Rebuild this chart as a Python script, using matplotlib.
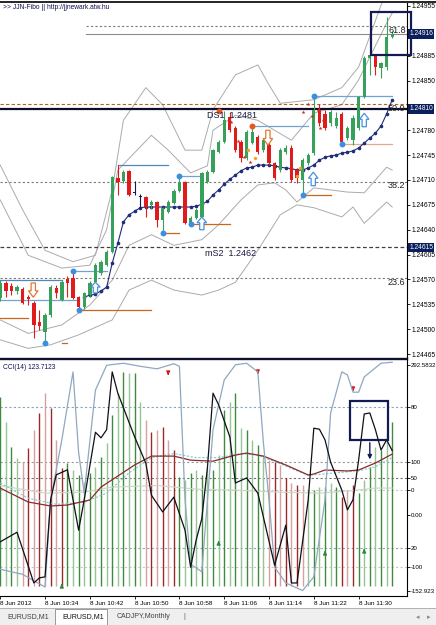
import matplotlib
matplotlib.use("Agg")
import matplotlib.pyplot as plt
import matplotlib.transforms as mtransforms
from matplotlib.patches import Rectangle, Polygon
from matplotlib.lines import Line2D
import numpy as np

plt.rcParams['font.family'] = ['Liberation Sans', 'DejaVu Sans']

# EURUSD M1, 8 Jun 2012 10:26 .. 11:36 (one bar per minute)
opens = [1.24544, 1.24565, 1.24561, 1.24554, 1.24557, 1.24545, 1.24537, 1.24510, 1.24496, 1.24520,
         1.24558, 1.24541, 1.24571, 1.24572, 1.24545, 1.24531, 1.24548, 1.24566, 1.24579, 1.24590,
         1.24609, 1.24713, 1.24709, 1.24723, 1.24692, 1.24686, 1.24686, 1.24675, 1.24679, 1.24654,
         1.24665, 1.24678, 1.24695, 1.24707, 1.24649, 1.24657, 1.24658, 1.24707, 1.24721, 1.24749,
         1.24764, 1.24799, 1.24783, 1.24764, 1.24741, 1.24762, 1.24771, 1.24752, 1.24759, 1.24734,
         1.24724, 1.24749, 1.24755, 1.24724, 1.24710, 1.24734, 1.24748, 1.24809, 1.24803, 1.24790,
         1.24786, 1.24803, 1.24769, 1.24766, 1.24783, 1.24827, 1.24882, 1.24886, 1.24868, 1.24869,
         1.24911]
highs = [1.24569, 1.24568, 1.24565, 1.24562, 1.24559, 1.24548, 1.24540, 1.24527, 1.24523, 1.24562,
         1.24562, 1.24569, 1.24575, 1.24582, 1.24547, 1.24552, 1.24568, 1.24593, 1.24597, 1.24611,
         1.24716, 1.24731, 1.24724, 1.24724, 1.24709, 1.24690, 1.24687, 1.24682, 1.24680, 1.24672,
         1.24682, 1.24697, 1.24716, 1.24709, 1.24659, 1.24671, 1.24721, 1.24724, 1.24754, 1.24766,
         1.24807, 1.24806, 1.24786, 1.24766, 1.24780, 1.24786, 1.24773, 1.24769, 1.24762, 1.24735,
         1.24755, 1.24759, 1.24759, 1.24727, 1.24741, 1.24748, 1.24828, 1.24817, 1.24809, 1.24809,
         1.24806, 1.24806, 1.24786, 1.24802, 1.24828, 1.24885, 1.24887, 1.24887, 1.24876, 1.24940,
         1.24920]
lows = [1.24540, 1.24545, 1.24548, 1.24549, 1.24535, 1.24534, 1.24488, 1.24499, 1.24481, 1.24517,
        1.24544, 1.24540, 1.24545, 1.24542, 1.24527, 1.24528, 1.24545, 1.24564, 1.24576, 1.24589,
        1.24607, 1.24689, 1.24706, 1.24687, 1.24689, 1.24672, 1.24658, 1.24669, 1.24644, 1.24635,
        1.24664, 1.24676, 1.24693, 1.24648, 1.24648, 1.24655, 1.24657, 1.24706, 1.24720, 1.24748,
        1.24762, 1.24778, 1.24749, 1.24735, 1.24738, 1.24761, 1.24747, 1.24749, 1.24731, 1.24710,
        1.24721, 1.24747, 1.24707, 1.24706, 1.24689, 1.24731, 1.24745, 1.24786, 1.24780, 1.24786,
        1.24783, 1.24761, 1.24766, 1.24759, 1.24780, 1.24825, 1.24858, 1.24858, 1.24854, 1.24865,
        1.24910]
closes = [1.24565, 1.24554, 1.24554, 1.24559, 1.24537, 1.24542, 1.24506, 1.24504, 1.24520, 1.24559,
          1.24551, 1.24566, 1.24565, 1.24544, 1.24531, 1.24551, 1.24565, 1.24590, 1.24595, 1.24609,
          1.24714, 1.24707, 1.24721, 1.24689, 1.24692, 1.24686, 1.24672, 1.24679, 1.24654, 1.24671,
          1.24679, 1.24695, 1.24707, 1.24649, 1.24657, 1.24668, 1.24720, 1.24721, 1.24752, 1.24764,
          1.24794, 1.24780, 1.24752, 1.24741, 1.24778, 1.24778, 1.24749, 1.24766, 1.24734, 1.24713,
          1.24752, 1.24755, 1.24710, 1.24713, 1.24738, 1.24745, 1.24809, 1.24790, 1.24783, 1.24806,
          1.24797, 1.24764, 1.24783, 1.24797, 1.24827, 1.24882, 1.24886, 1.24869, 1.24875, 1.24911,
          1.24916]

# envelope bands (bar, price) read at turning points
uo_bars = [0, 4, 8, 13, 17, 20, 22, 26, 29, 33, 36, 38, 42, 46, 48, 50, 56, 61, 64, 68, 70]
uo_vals = [1.24731, 1.24668, 1.24611, 1.24595, 1.24604, 1.24696, 1.24794, 1.24840, 1.24816, 1.24752,
           1.24752, 1.24809, 1.24858, 1.24872, 1.24844, 1.24818, 1.24823, 1.24840, 1.24869, 1.24956, 1.24990]
ui_bars = [0, 5, 11, 16, 19, 21, 27, 30, 34, 37, 38, 42, 46, 52, 56, 61, 64, 69, 70]
ui_vals = [1.24682, 1.24604, 1.24586, 1.24590, 1.24640, 1.24724, 1.24773, 1.24752, 1.24720, 1.24730,
           1.24780, 1.24801, 1.24794, 1.24766, 1.24804, 1.24816, 1.24851, 1.24931, 1.24945]
li_bars = [0, 5, 11, 16, 20, 23, 27, 31, 36, 39, 43, 46, 49, 51, 53, 56, 62, 65, 67, 69, 70]
li_vals = [1.24513, 1.24494, 1.24506, 1.24534, 1.24569, 1.24618, 1.24633, 1.24618, 1.24626, 1.24647,
           1.24682, 1.24703, 1.24706, 1.24696, 1.24679, 1.24699, 1.24693, 1.24692, 1.24710, 1.24728, 1.24724]
lo_bars = [0, 5, 9, 14, 20, 23, 27, 31, 36, 39, 42, 46, 50, 53, 56, 61, 63, 65, 69, 70]
lo_vals = [1.24485, 1.24473, 1.24478, 1.24492, 1.24513, 1.24555, 1.24569, 1.24555, 1.24548, 1.24555,
           1.24566, 1.24611, 1.24661, 1.24675, 1.24671, 1.24658, 1.24672, 1.24649, 1.24679, 1.24672]

# trailing stop line (bars 15..70)
trail_start = 15
trail_vals = [1.24545, 1.24548, 1.24549, 1.24554, 1.24559, 1.24593, 1.24621, 1.24651, 1.24661, 1.24666,
              1.24671, 1.24672, 1.24672, 1.24672, 1.24672, 1.24672, 1.24672, 1.24672, 1.24672, 1.24672,
              1.24673, 1.24676, 1.24680, 1.24689, 1.24696, 1.24704, 1.24711, 1.24717, 1.24723, 1.24727,
              1.24728, 1.24731, 1.24731, 1.24731, 1.24730, 1.24728, 1.24727, 1.24726, 1.24724, 1.24724,
              1.24727, 1.24731, 1.24738, 1.24742, 1.24744, 1.24745, 1.24748, 1.24749, 1.24751, 1.24755,
              1.24762, 1.24769, 1.24776, 1.24786, 1.24803, 1.24823]

fib_levels = [1.24572, 1.24707, 1.24817, 1.24927]
fib_names = ['23.6', '38.2', '50.0', '61.8']
bid = 1.24916
ds1 = 1.24810
ms2 = 1.24615

swing_dots = [(8, 1.24481), (13, 1.24582), (14, 1.24527), (29, 1.24635), (32, 1.24716),
              (34, 1.24648), (54, 1.24689), (56, 1.24828), (61, 1.24761)]
peak_dots = [(39, 1.24807), (45, 1.24786)]
# (from bar, to bar, price, kind)
swing_lines = [(0, 11, 1.24569, 'b'), (0, 14, 1.24541, 'lb'), (0, 5, 1.24516, 'o'),
               (13, 19, 1.24582, 'lb'), (14, 27, 1.24527, 'o'), (11, 12, 1.24481, 'o'),
               (21, 30, 1.24731, 'b'), (32, 36, 1.24716, 'lb'), (29, 32, 1.24635, 'o'),
               (34, 41, 1.24648, 'o'), (45, 55, 1.24786, 'lb'), (54, 59, 1.24689, 'o'),
               (56, 70, 1.24828, 'lb'), (61, 70, 1.24761, 't')]
# (bar, top, bottom, up)
signal_arrows = [(5.9, 1.24565, 1.24545, False), (17, 1.24566, 1.24551, True),
                 (36, 1.24658, 1.24640, True), (47.8, 1.24780, 1.24759, False),
                 (55.9, 1.24721, 1.24702, True), (65, 1.24804, 1.24785, True)]
star_bars = [41.2, 41.9, 42.5, 43.0, 43.5, 44.6, 54.1, 55.0, 55.7, 56.8, 57.6, 57.1]
star_vals = [1.24792, 1.24779, 1.24765, 1.24752, 1.24742, 1.24735, 1.24806, 1.24817, 1.24800,
             1.24809, 1.24794, 1.24783]
dot_bars = [44.3, 45.5, 53.0, 53.5]
dot_vals = [1.24752, 1.24741, 1.24716, 1.24727]

price_ticks = [1.24465, 1.24500, 1.24535, 1.24570, 1.24605, 1.24640, 1.24675, 1.24710, 1.24745,
               1.24780, 1.24815, 1.24850, 1.24885, 1.24920, 1.24955]
# labels hidden behind the price boxes on the right
hidden_ticks = [1.24815, 1.24920]

# lower panel
hist_vals = [229.5, 180.2, 130.9, 109.3, 101.4, 129.0, 164.5, 198.0, 237.4, 207.8,
             144.8, 89.6, 99.4, 85.6, 75.8, 62.0, 79.7, 91.5, 111.2, 138.8,
             194.0, 237.4, 278.8, 276.8, 276.8, 219.7, 184.2, 160.5, 164.5, 170.4,
             144.8, 125.0, 71.8, 65.9, 79.7, 85.6, 75.8, 89.6, 85.6, 115.2,
             203.9, 219.7, 237.4, 168.4, 164.5, 144.8, 134.9, 115.2, 105.3, 101.4,
             95.5, 69.9, 60.0, 56.1, 56.1, 46.2, 46.2, 52.1, 52.1, 60.0,
             52.1, 32.4, 46.2, 56.1, 40.3, 65.9, 91.5, 130.9, 125.0, 158.6, 180.2]
hist_up = [1, 1, 1, 1, 0, 0, 0, 0, 0, 0, 0, 0, 1, 1, 1, 1, 1, 1, 1, 1,
           1, 1, 1, 1, 1, 1, 0, 0, 0, 0, 0, 0, 1, 1, 1, 1, 1, 1, 1, 1,
           1, 1, 1, 1, 1, 1, 1, 1, 0, 0, 0, 0, 0, 0, 0, 1, 1, 1, 1, 1,
           1, 0, 0, 0, 1, 1, 1, 1, 1, 1, 1]
hist_base = -143.0

cci_bars = [0, 3, 6, 7, 8, 9, 10, 12, 13, 14, 15, 17, 18, 19, 20, 21, 24, 26, 27, 29, 31, 33, 34,
            35, 36, 37, 38, 39, 41, 42, 44, 46, 49, 51, 52, 53, 55, 56, 57, 58, 59, 61, 62, 63,
            64, 65, 66, 67, 68, 69, 70]
cci_vals = [-56, -37, -137, -127, -125, 27, 76, 86, 27, -33, 27, 160, 149, 165, 279, 237, 151, 99,
            36, 3, 32, -33, -106, -52, -10, 90, 237, 214, 151, 60, 70, 40, -102, -23, -137, -137,
            27, 168, 166, 145, 101, 46, 7, 27, 105, 196, 198, 165, 125, 145, 123.7]
osc_bars = [0, 4, 8, 9, 11, 13, 14, 15, 17, 19, 22, 25, 28, 31, 32, 33, 34, 36, 38, 40, 42, 44,
            46, 47, 48, 49, 51, 54, 56, 58, 59, 61, 62, 63, 64, 65, 68, 70]
osc_vals = [-110, -120, -145, 27, 145, 279, 120, 40, 243, 292, 296, 290, 285, 295, 290, 27, -100,
            -115, 165, 263, 293, 296, 279, 139, 27, -106, -137, -152, -125, 27, 198, 279, 273,
            239, 239, 269, 296, 298]
ma_bars = [0, 5, 9, 12, 16, 18, 24, 27, 31, 34, 38, 42, 44, 47, 51, 55, 56, 58, 62, 64, 67, 70]
ma_vals = [50, 22.5, 14.7, 16.6, 26.5, 52, 95.5, 113, 113, 105, 103, 115, 119, 113, 95.5, 75.8,
           77.7, 85.6, 83.7, 85.6, 99.4, 117]
sig_bars = [0, 5, 10, 15, 19, 23, 27, 31, 35, 39, 43, 46, 50, 55, 60, 64, 67, 70]
sig_vals = [60, 30, 18, 22, 40, 80, 110, 118, 110, 110, 118, 115, 98, 75, 80, 84, 92, 110]
slow_bars = [0, 8, 15, 20, 28, 35, 42, 50, 57, 63, 67, 70]
slow_vals = [55, 40, 42, 52, 55, 48, 46, 42, 40, 45, 50, 50]

cci_levels = [209.8, 100.4, 70.0, 46.2, -68.0, -105.6]
cci_level_colors = ['#8aa4b8', '#9a9a9a', '#707070', '#c8c8c8', '#8aa4b8', '#c8c8c8']
cci_ticks = [292.58, 209.8, 100.4, 70.0, 46.2, -3.0, -68.0, -105.6, -152.92]
cci_tick_labels = ['292.5832', '80', '100', '50', '0', '0.00', '20', '-100', '-152.923']
down_marks = [(30, 276.8), (46, 278.8), (63, 245.3)]
up_marks = [(11, -143.0), (39, -58.3), (58, -78.0), (65, -74.0)]

time_ticks = [0, 8, 16, 24, 32, 40, 48, 56, 64]
time_labels = ['8 Jun 2012', '8 Jun 10:34', '8 Jun 10:42', '8 Jun 10:50', '8 Jun 10:58',
               '8 Jun 11:06', '8 Jun 11:14', '8 Jun 11:22', '8 Jun 11:30']

GREEN = '#37a05a'
RED = '#e01b1b'
NAVY = '#141a52'
W, H = 436, 625


def fx(px):
    return px / W


def fy(py):
    return 1 - py / H


def hollow_arrow(ax, x, top, bottom, up, color):
    w = 0.85
    h = top - bottom
    if up:
        head = top - 0.45 * h
        pts = [(x, top), (x + w, head), (x + w * 0.45, head), (x + w * 0.45, bottom),
               (x - w * 0.45, bottom), (x - w * 0.45, head), (x - w, head)]
    else:
        head = bottom + 0.45 * h
        pts = [(x, bottom), (x + w, head), (x + w * 0.45, head), (x + w * 0.45, top),
               (x - w * 0.45, top), (x - w * 0.45, head), (x - w, head)]
    ax.add_patch(Polygon(pts, closed=True, fc='white', ec=color, lw=0.9, zorder=6))


fig = plt.figure(figsize=(4.36, 6.25), dpi=100)
ax = fig.add_axes([0, fy(357), fx(407), fy(3) - fy(357)])
axc = fig.add_axes([0, fy(596), fx(407), fy(360) - fy(596)])

xlim = (-0.04, 72.64)

# ---------------- price panel ----------------
ax.set_xlim(*xlim)
ax.set_ylim(1.244608, 1.249592)
for s in ['top', 'left', 'bottom']:
    ax.spines[s].set_visible(False)
ax.spines['right'].set_linewidth(0.8)
ax.yaxis.tick_right()
ax.set_yticks(price_ticks)
ax.set_yticklabels(['' if p in hidden_ticks else '%.5f' % p for p in price_ticks])
ax.tick_params(axis='y', length=2, pad=1.2, labelsize=4.8, width=0.6)
ax.set_xticks([])

for bx, bv in [(uo_bars, uo_vals), (ui_bars, ui_vals), (li_bars, li_vals), (lo_bars, lo_vals)]:
    ax.plot(bx, bv, color='#ababab', lw=0.7, zorder=1)

# levels
ax.axhline(fib_levels[0], color='#7a7a7a', lw=0.8, ls=(0, (2, 2)), zorder=2)
ax.axhline(fib_levels[1], color='#7a7a7a', lw=0.8, ls=(0, (2, 2)), zorder=2)
ax.axhline(fib_levels[2], color='#b5651d', lw=0.8, ls=(0, (3, 2)), zorder=2)
ax.plot([15.3, xlim[1]], [fib_levels[3]] * 2, color='#7a7a7a', lw=0.8, ls=(0, (2, 2)), zorder=2)
ax.plot([15.3, xlim[1]], [bid] * 2, color='#8c8c8c', lw=0.8, zorder=2)
ax.axhline(ds1, color='#0d0d2b', lw=1.6, zorder=2)
ax.axhline(ms2, color='#404040', lw=0.9, ls=(0, (3, 2)), zorder=2)

label_y = {'61.8': 1.24921, '50.0': 1.24811, '38.2': 1.24702, '23.6': 1.24565}
for name in fib_names:
    ax.text(69.25, label_y[name], name, fontsize=6.5, color='#202020', va='center', ha='left',
            zorder=7, clip_on=True)
ax.text(36.9, 1.24801, 'DS1  1.2481', fontsize=6.5, color='#1a1a40', va='center', zorder=7)
ax.text(36.6, 1.24607, 'mS2  1.2462', fontsize=6.5, color='#1a1a40', va='center', zorder=7)

# swing lines and dots
line_colors = {'b': '#4f87b8', 'lb': '#6fa3d0', 'o': '#c8651e', 't': '#e2a98a'}
for b0, b1, p, k in swing_lines:
    ax.plot([b0, b1], [p, p], color=line_colors[k], lw=0.9, zorder=3)

# trailing line
tx = np.arange(trail_start, trail_start + len(trail_vals))
ax.plot(tx, trail_vals, color='#1f2d7a', lw=0.8, marker='o', ms=1.6, zorder=3)

# candles
x = np.arange(len(opens))
o = np.array(opens)
c = np.array(closes)
cols = [GREEN if cc > oo else (RED if cc < oo else NAVY) for oo, cc in zip(o, c)]
ax.vlines(x, lows, highs, colors=cols, lw=0.8, zorder=4)
ax.bar(x, np.maximum(np.abs(c - o), 0.000012), bottom=np.minimum(o, c), width=0.6,
       color=cols, linewidth=0, zorder=4)

ax.scatter([d[0] for d in swing_dots], [d[1] for d in swing_dots], s=18, color='#3b8fe0',
           zorder=5, linewidths=0)
ax.scatter([d[0] for d in peak_dots], [d[1] for d in peak_dots], s=18, color='#e8571e',
           zorder=5, linewidths=0)
ax.scatter(star_bars, star_vals, s=9, marker='*', color='#cc2a1a', zorder=5, linewidths=0)
ax.scatter(dot_bars, dot_vals, s=6, marker='o', color='#f0a030', zorder=5, linewidths=0)

for bx, top, bot, up in signal_arrows:
    hollow_arrow(ax, bx, top, bot, up, '#4a90d9' if up else '#e07830')

ax.add_patch(Rectangle((66.2, 1.24886), 7.2, 0.000606, fill=False, ec=NAVY, lw=1.6,
                       zorder=8, clip_on=False))

tr = mtransforms.blended_transform_factory(ax.transAxes, ax.transData)
for p in [bid, ds1, ms2]:
    ax.text(1.005, p, '%.5f' % p, transform=tr, fontsize=4.8, color='white', va='center',
            ha='left', zorder=9, clip_on=False,
            bbox=dict(boxstyle='square,pad=0.2', fc='#0b1f5c', ec='none'))

ax.text(0.007, 0.997, '>> JJN-Fibo || http://jjnewark.atw.hu', transform=ax.transAxes,
        fontsize=4.8, color='#101050', va='top', ha='left', zorder=9)

# ---------------- CCI panel ----------------
axc.set_xlim(*xlim)
axc.set_ylim(-162.7, 302.4)
for s in ['top', 'left']:
    axc.spines[s].set_visible(False)
axc.spines['right'].set_linewidth(0.8)
axc.spines['bottom'].set_linewidth(0.8)
axc.yaxis.tick_right()
axc.set_yticks(cci_ticks)
axc.set_yticklabels(cci_tick_labels)
axc.tick_params(axis='y', length=2, pad=0.8, labelsize=4.4, width=0.6)
axc.set_xticks(time_ticks)
axc.set_xticklabels(time_labels, ha='left')
axc.tick_params(axis='x', length=2, pad=1.5, labelsize=4.6, width=0.6)

for lv, lc in zip(cci_levels, cci_level_colors):
    axc.axhline(lv, color=lc, lw=0.8, ls=(0, (2, 2)), zorder=1)

hcols = []
for i, up in enumerate(hist_up):
    if up:
        hcols.append('#3f8a3f' if i % 2 == 0 else '#96c496')
    else:
        hcols.append('#9a2a2a' if i % 2 == 1 else '#d8a0a0')
axc.vlines(x, hist_base, hist_vals, colors=hcols, lw=1.0, zorder=2)

axc.plot(slow_bars, slow_vals, color='#c9d6c0', lw=0.8, zorder=3)
axc.plot(sig_bars, sig_vals, color='#7fc9cf', lw=0.8, ls=(0, (2, 1.5)), zorder=3)
axc.plot(ma_bars, ma_vals, color='#8b2a2a', lw=0.9, zorder=3)
axc.plot(osc_bars, osc_vals, color='#8fa8bf', lw=0.9, zorder=4)
axc.plot(cci_bars, cci_vals, color='#101018', lw=0.9, zorder=5)

for bx, v in down_marks:
    axc.annotate('', xy=(bx, v - 10), xytext=(bx, v + 4),
                 arrowprops=dict(arrowstyle='-|>', color='#d41c1c', lw=1.0, mutation_scale=5))
for bx, v in up_marks:
    axc.annotate('', xy=(bx, v + 10), xytext=(bx, v - 4),
                 arrowprops=dict(arrowstyle='-|>', color='#2e8b3e', lw=1.0, mutation_scale=5))

axc.add_patch(Rectangle((62.5, 144.8), 6.75, 76.8, fill=False, ec=NAVY, lw=1.6, zorder=8))
axc.annotate('', xy=(66.0, 101.0), xytext=(66.0, 144.8),
             arrowprops=dict(arrowstyle='-|>', color=NAVY, lw=1.0, mutation_scale=6))

axc.text(0.007, 0.985, 'CCI(14) 123.7123', transform=axc.transAxes, fontsize=4.8,
         color='#101050', va='top', ha='left', zorder=9)

# frame pieces
fig.add_artist(Line2D([0, 1], [fy(2), fy(2)], color='#000000', lw=1.2))
fig.add_artist(Line2D([0, fx(407)], [fy(358.5), fy(358.5)], color='#101030', lw=1.7))
fig.add_artist(Line2D([fx(407), fx(407)], [fy(357), fy(360)], color='black', lw=0.8))

# bottom tabs
fig.add_artist(Rectangle((0, 0), 1, fy(608), fc='#efefef', ec='none'))
fig.add_artist(Line2D([0, 1], [fy(608), fy(608)], color='#a8a8a8', lw=0.6))
fig.add_artist(Rectangle((fx(55), 0), fx(52), fy(609), fc='white', ec='#8a8a8a', lw=0.6))
fig.text(fx(7), fy(617), 'EURUSD,M1', fontsize=5, color='#404040', va='center')
fig.text(fx(62), fy(617), 'EURUSD,M1', fontsize=5, color='#101010', va='center')
fig.text(fx(117), fy(617), 'CADJPY,Monthly', fontsize=5, color='#404040', va='center')
fig.text(fx(183), fy(617), '|', fontsize=5, color='#606060', va='center')
fig.text(fx(416), fy(617), '\u25c2', fontsize=5, color='#8a8a8a', va='center',
         family=['DejaVu Sans'])
fig.text(fx(427), fy(617), '\u25b8', fontsize=5, color='#8a8a8a', va='center',
         family=['DejaVu Sans'])

fig.savefig('out.png', dpi=100)
